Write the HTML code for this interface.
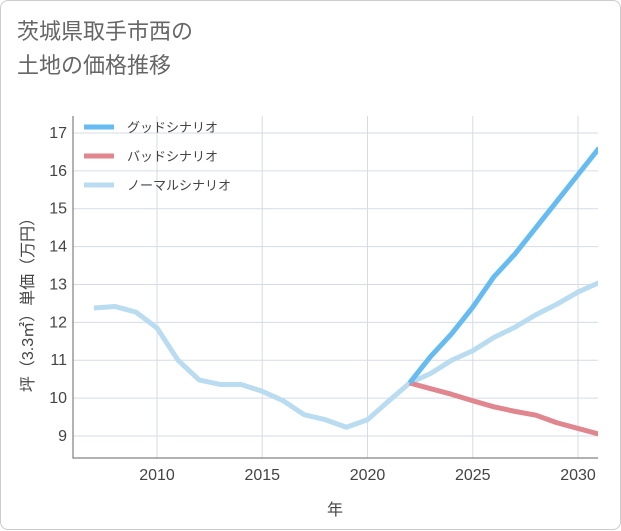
<!DOCTYPE html>
<html><head><meta charset="utf-8"><style>
body{margin:0;background:#fff;}
#card{position:absolute;left:0;top:0;width:619px;height:528px;border:1px solid #ccc;border-radius:8px;background:#fff;font-family:"Liberation Sans","Noto Sans CJK JP",sans-serif;}
#title{position:absolute;left:16px;top:14px;font-size:22px;line-height:34px;color:#666;}
</style></head><body>
<div id="card">
<div id="title">茨城県取手市西の<br>土地の価格推移</div>
<svg id="chart" width="621" height="530" style="position:absolute;left:0;top:0"><defs><clipPath id="pc"><rect x="72" y="115" width="525" height="342"/></clipPath></defs></svg>
</div>
<script>
const years=[2007,2008,2009,2010,2011,2012,2013,2014,2015,2016,2017,2018,2019,2020,2021,2022,2023,2024,2025,2026,2027,2028,2029,2030,2031];
const normal=[12.38,12.42,12.27,11.85,11.0,10.48,10.36,10.36,10.18,9.93,9.56,9.43,9.23,9.43,9.92,10.4,10.65,11.0,11.25,11.6,11.87,12.2,12.48,12.8,13.05];
const goodYears=[2022,2023,2024,2025,2026,2027,2028,2029,2030,2031];
const good=[10.4,11.1,11.7,12.4,13.2,13.8,14.5,15.2,15.9,16.6];
const bad=[10.4,10.25,10.1,9.93,9.77,9.65,9.55,9.35,9.2,9.05];
const xTicks=[2010,2015,2020,2025,2030];
const yTicks=[9,10,11,12,13,14,15,16,17];
const NS='http://www.w3.org/2000/svg';
const svg=document.getElementById('chart');
const L=72,R=597,T=115,B=457;
const x=v=>156+(v-2010)*21.05;
const y=v=>435-(v-9)*37.88;
function mk(t,a){const e=document.createElementNS(NS,t);for(const k in a)e.setAttribute(k,a[k]);svg.appendChild(e);return e;}
for(const t of xTicks){const g=mk('line',{x1:x(t),x2:x(t),y1:T,y2:B,stroke:'#d5dce6','stroke-width':1});


const tx=mk('text',{x:x(t),y:479,'text-anchor':'middle','font-size':16,fill:'#444'});tx.textContent=t;

}
for(const t of yTicks){const g=mk('line',{x1:L,x2:R,y1:y(t),y2:y(t),stroke:'#d5dce6','stroke-width':1});


const tx=mk('text',{x:66,y:y(t)+5,'text-anchor':'end','font-size':16,fill:'#444'});tx.textContent=t;

}
const ax=mk('path',{d:`M${L} ${T}V${B}H${R}`,fill:'none',stroke:'#666','stroke-width':1});


function line(xs,vs,c,n){const p=mk('polyline',{points:xs.map((a,i)=>x(a)+','+y(vs[i])).join(' '),fill:'none',stroke:c,'stroke-width':5,'stroke-linejoin':'round','clip-path':'url(#pc)'});

}
line(years,normal,'#b9dcf0','normal-scenario-line');
line(goodYears,bad,'#e0868e','bad-scenario-line');
line(goodYears,good,'#66bbf0','good-scenario-line');
const leg=[['グッドシナリオ','#66bbf0'],['バッドシナリオ','#e0868e'],['ノーマルシナリオ','#b9dcf0']];
leg.forEach((l,i)=>{const ly=126+i*29;const s=mk('line',{x1:83,x2:113,y1:ly,y2:ly,stroke:l[1],'stroke-width':5});


const t=mk('text',{x:126,y:ly+5,'font-size':13,fill:'#444'});t.textContent=l[0];

});
const xt=mk('text',{x:334,y:514,'text-anchor':'middle','font-size':16,fill:'#444'});xt.textContent='年';


const yt=mk('text',{x:0,y:0,'text-anchor':'middle','font-size':16,fill:'#444',transform:'translate(32,300) rotate(-90)'});yt.textContent='坪（3.3㎡）単価（万円）';


</script>
</body></html>
